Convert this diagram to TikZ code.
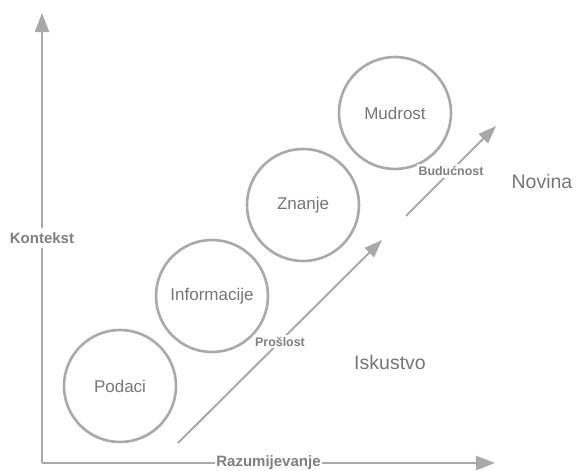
\documentclass[tikz,border=0pt]{standalone}
\usepackage{fontspec}
\setmainfont{Liberation Sans}
\usetikzlibrary{arrows.meta}
\definecolor{linegray}{HTML}{A9A9A9}
\definecolor{textgray}{HTML}{767676}
\definecolor{lblgray}{HTML}{7F7F7F}
\begin{document}
\begin{tikzpicture}[x=1pt,y=-1pt,
  stage/.style={circle,draw=linegray,line width=2.6pt,minimum size=112pt,inner sep=0pt,text=textgray,font=\fontsize{17}{20}\selectfont},
  axis/.style={draw=linegray,line width=2.3pt,-{Triangle[length=19pt,width=14pt]}},
  trend/.style={draw=linegray,line width=2pt,-{Triangle[length=18pt,width=13pt]}},
  axlbl/.style={fill=white,text=lblgray,font=\bfseries\fontsize{15}{18}\selectfont,inner xsep=1pt,inner ysep=4pt},
  trlbl/.style={fill=white,text=lblgray,font=\bfseries\fontsize{12.4}{15}\selectfont,inner sep=2pt},
  region/.style={text=textgray,font=\fontsize{19.5}{22}\selectfont}]
\useasboundingbox (0,0) rectangle (576,471);
% axes
\coordinate (O) at (42,463);
\coordinate (ytip) at (42,13);
\coordinate (xtip) at (495,463);
\draw[axis] (O) -- node[axlbl] (kontekst) {Kontekst} (ytip);
\draw[axis] (O) -- node[axlbl] (razum) {Razumijevanje} (xtip);
% stages
\node[stage] (podaci) at (120,386) {Podaci};
\node[stage] (informacije) at (212,296) {Informacije};
\node[stage] (znanje) at (303,205) {Znanje};
\node[stage] (mudrost) at (395,113) {Mudrost};
% trend arrows
\coordinate (p0) at (178,443);
\coordinate (p1) at (382,240);
\coordinate (b0) at (406,216);
\coordinate (b1) at (496,126);
\draw[trend] (p0) -- node[trlbl] (proslost) {Prošlost} (p1);
\draw[trend] (b0) -- node[trlbl] (buducnost) {Budućnost} (b1);
% regions
\node[region] (iskustvo) at (390,363) {Iskustvo};
\node[region] (novina) at (542,182) {Novina};
\end{tikzpicture}
\end{document}
